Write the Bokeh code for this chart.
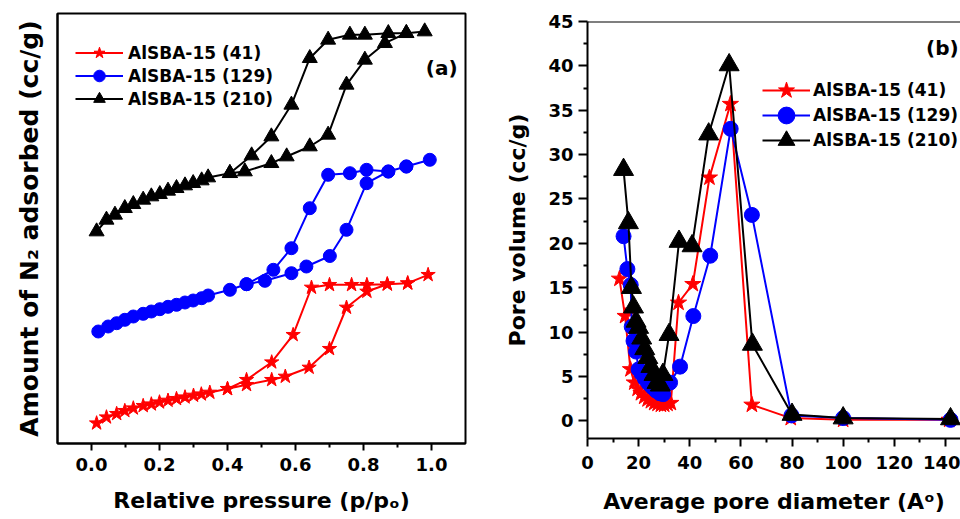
from bokeh.plotting import figure
from bokeh.layouts import row, column
from bokeh.models import Legend, LegendItem, FixedTicker, PrintfTickFormatter, Label, Span
from bokeh.embed import file_html
from bokeh.resources import INLINE

FONT = "DejaVu Sans"
RED, BLUE, BLACK = "#ff0000", "#0000ff", "#000000"
NAMES = ["AlSBA-15 (41)", "AlSBA-15 (129)", "AlSBA-15 (210)"]

# ---------------- (a) N2 adsorption-desorption isotherms ----------------
# amounts are in cc/g, curves offset vertically for clarity
p41_ads = [0.015, 0.044, 0.074, 0.098, 0.123, 0.152, 0.176, 0.200, 0.225, 0.250, 0.275, 0.300,
           0.323, 0.348, 0.400, 0.456, 0.530, 0.570, 0.640, 0.700, 0.750, 0.810, 0.870, 0.930, 0.990]
v41_ads = [20.3, 26.3, 29.7, 32.7, 35.3, 37.7, 39.3, 41.3, 43.0, 44.7, 46.3, 48.0,
           49.3, 51.0, 54.7, 58.7, 63.7, 67.0, 76.0, 94.7, 136.0, 152.0, 159.3, 160.3, 168.7]
p41_des = [0.930, 0.870, 0.810, 0.765, 0.700, 0.647, 0.593, 0.530, 0.456, 0.400]
v41_des = [160.3, 159.3, 158.7, 158.7, 158.7, 156.0, 108.7, 81.3, 63.7, 54.7]

p129_ads = [0.020, 0.049, 0.074, 0.098, 0.123, 0.152, 0.176, 0.201, 0.225, 0.250, 0.275, 0.299,
            0.324, 0.343, 0.407, 0.456, 0.510, 0.588, 0.632, 0.701, 0.750, 0.809, 0.873, 0.926, 0.995]
v129_ads = [112.0, 117.0, 120.3, 123.7, 127.0, 129.7, 132.0, 134.3, 136.7, 138.7, 141.0, 143.0,
            145.3, 148.0, 153.7, 159.3, 162.7, 170.3, 177.0, 187.5, 213.7, 260.3, 272.0, 277.0, 283.7]
p129_des = [0.926, 0.873, 0.809, 0.760, 0.696, 0.642, 0.588, 0.535, 0.456]
v129_des = [277.0, 272.0, 273.7, 270.3, 268.7, 235.3, 195.3, 173.7, 159.3]

p210_ads = [0.015, 0.044, 0.069, 0.098, 0.123, 0.152, 0.176, 0.201, 0.225, 0.250, 0.275, 0.299,
            0.324, 0.343, 0.407, 0.451, 0.529, 0.574, 0.642, 0.696, 0.750, 0.804, 0.863, 0.926, 0.980]
v210_ads = [212.0, 223.7, 228.7, 235.3, 239.3, 243.7, 247.0, 249.3, 252.7, 255.3, 258.0, 260.3,
            263.0, 266.0, 270.3, 272.0, 280.3, 287.0, 297.0, 308.7, 358.7, 383.7, 400.3, 410.3, 412.0]
p210_des = [0.926, 0.873, 0.804, 0.760, 0.696, 0.642, 0.588, 0.529, 0.471, 0.407]
v210_des = [410.3, 410.3, 408.7, 408.7, 403.7, 385.3, 338.7, 307.0, 288.0, 270.3]

p_ticks = [0.0, 0.2, 0.4, 0.6, 0.8, 1.0]
p_minor = [0.1, 0.3, 0.5, 0.7, 0.9]

# ---------------- (b) pore size distributions ----------------
d41 = [12.5, 14.7, 16.8, 18.3, 19.6, 20.9, 22.2, 23.5, 24.8, 26.1, 27.4, 28.7, 30.0, 31.3, 32.6,
       35.6, 41.2, 47.7, 55.9, 64.3, 79.5, 100.0, 141.5]
pv41 = [16.0, 11.8, 5.8, 4.3, 3.6, 3.1, 2.7, 2.4, 2.2, 2.0, 1.9, 1.8, 1.8, 1.9, 2.0,
        13.3, 15.4, 27.4, 35.7, 1.8, 0.3, 0.1, 0.1]

d129 = [14.1, 15.6, 16.9, 17.3, 18.0, 19.0, 20.0, 21.2, 22.5, 23.9, 25.3, 26.8, 28.3, 29.6,
        32.3, 36.2, 41.4, 48.0, 56.0, 64.3, 79.8, 100.0, 142.0]
pv129 = [20.8, 17.1, 15.3, 10.6, 9.0, 7.8, 5.8, 5.3, 4.7, 4.2, 3.8, 3.4, 3.1, 3.0,
         4.3, 6.1, 11.8, 18.6, 32.9, 23.2, 0.6, 0.3, 0.1]

d210 = [14.1, 16.0, 17.2, 18.0, 19.0, 20.0, 21.2, 22.4, 23.6, 24.8, 26.0, 27.2, 28.5, 29.5,
        31.9, 35.8, 40.9, 47.4, 55.4, 64.5, 80.0, 100.0, 142.0]
pv210 = [28.3, 22.3, 15.0, 12.8, 11.2, 10.5, 9.3, 8.1, 7.1, 6.1, 5.2, 4.3, 4.0, 5.2,
         9.7, 20.2, 19.7, 32.3, 40.1, 8.6, 0.7, 0.3, 0.2]

d_ticks = [0, 20, 40, 60, 80, 100, 120, 140]
d_minor = [10, 30, 50, 70, 90, 110, 130]
pv_ticks = [0, 5, 10, 15, 20, 25, 30, 35, 40, 45]
pv_minor = [2.5, 7.5, 12.5, 17.5, 22.5, 27.5, 32.5, 37.5, 42.5]


def style_axis(ax, tick_size="18px", label_size="22px"):
    ax.axis_line_width = 2
    ax.major_tick_line_width = 2
    ax.minor_tick_line_width = 2
    ax.major_tick_in = 0
    ax.minor_tick_in = 0
    ax.major_label_text_font = FONT
    ax.major_label_text_font_style = "bold"
    ax.major_label_text_font_size = tick_size
    ax.major_label_text_color = "black"
    ax.axis_label_text_font = FONT
    ax.axis_label_text_font_style = "bold"
    ax.axis_label_text_font_size = label_size
    ax.axis_label_text_color = "black"


def add_legend_rows(fig, renderer_sets, x0, y_bottoms, glyph_h, standoff):
    # one single-entry legend per row, so that rows can sit closer than the glyph box
    for name, rends, yb in zip(NAMES, renderer_sets, y_bottoms):
        leg = Legend(items=[LegendItem(label=name, renderers=rends)], location=(x0, yb),
                     glyph_width=48, glyph_height=glyph_h, label_height=20, spacing=0,
                     padding=0, margin=0, label_standoff=standoff,
                     label_text_font=FONT, label_text_font_style="bold",
                     label_text_font_size="17px", label_text_color="black",
                     background_fill_alpha=0, border_line_color=None)
        fig.add_layout(leg, "center")


# ---------- panel (a) ----------
pa = figure(width=480, height=519, x_range=(-0.1, 1.1), y_range=(0, 430), title=None,
            output_backend="svg", toolbar_location=None,
            min_border_left=57, min_border_right=15, min_border_top=13, min_border_bottom=76)
pa.grid.visible = False
pa.outline_line_color = "black"
pa.outline_line_width = 2
pa.background_fill_color = "white"
pa.border_fill_color = "white"

xa = pa.xaxis[0]
style_axis(xa)
xa.ticker = FixedTicker(ticks=p_ticks, minor_ticks=p_minor)
xa.formatter = PrintfTickFormatter(format="%.1f")
xa.major_tick_out = 7
xa.minor_tick_out = 4
xa.major_label_standoff = 7
xa.axis_label = "Relative pressure (p/p\u2092)"
xa.axis_label_standoff = 14

ya = pa.yaxis[0]
style_axis(ya, label_size="25px")
ya.ticker = FixedTicker(ticks=[], minor_ticks=[])
ya.major_tick_out = 0
ya.minor_tick_out = 0
ya.axis_label = "Amount of N\u2082 adsorbed (cc/g)"
ya.axis_label_standoff = 14

series_a = [
    (p41_ads + p41_des, v41_ads + v41_des, RED, "star", 15),
    (p129_ads + p129_des, v129_ads + v129_des, BLUE, "circle", 13),
    (p210_ads + p210_des, v210_ads + v210_des, BLACK, "triangle", 15),
]
rend_a = []
for x, y, c, m, s in series_a:
    ln = pa.line(x, y, line_color=c, line_width=2)
    sc = pa.scatter(x, y, marker=m, size=s, fill_color=c, line_color=c)
    rend_a.append([ln, sc])

add_legend_rows(pa, rend_a, 18, [376, 353, 330], 29, 5)
pa.add_layout(Label(x=1.03, y=376, text="(a)", text_align="center", text_baseline="middle",
                    text_color="black", text_font=FONT, text_font_style="bold",
                    text_font_size="20px"))

# ---------- panel (b) ----------
pb = figure(width=480, height=519, x_range=(0, 145.9), y_range=(-2, 45), title=None,
            output_backend="svg", toolbar_location=None,
            min_border_left=107, min_border_right=0, min_border_top=21, min_border_bottom=81)
pb.grid.visible = False
pb.outline_line_color = None
pb.background_fill_color = "white"
pb.border_fill_color = "white"

xb = pb.xaxis[0]
style_axis(xb)
xb.ticker = FixedTicker(ticks=d_ticks, minor_ticks=d_minor)
xb.major_tick_out = 8
xb.minor_tick_out = 4
xb.major_label_standoff = 9
xb.axis_label = "Average pore diameter (A\u1d52)"
xb.axis_label_standoff = 17

yb = pb.yaxis[0]
style_axis(yb)
yb.ticker = FixedTicker(ticks=pv_ticks, minor_ticks=pv_minor)
yb.major_tick_out = 9
yb.minor_tick_out = 4
yb.major_label_standoff = 5
yb.axis_label = "Pore volume (cc/g)"
yb.axis_label_standoff = 15

# top edge of the frame (no right edge on this panel)
pb.add_layout(Span(location=45, dimension="width", line_color="black", line_width=2))

series_b = [
    (d41, pv41, RED, "star", 17),
    (d129, pv129, BLUE, "circle", 15),
    (d210, pv210, BLACK, "triangle", 20),
]
rend_b = []
for x, y, c, m, s in series_b:
    ln = pb.line(x, y, line_color=c, line_width=2)
    sc = pb.scatter(x, y, marker=m, size=s, fill_color=c, line_color=c)
    rend_b.append([ln, sc])

add_legend_rows(pb, rend_b, 175, [327, 302, 277], 42, 3)
pb.add_layout(Label(x=138.8, y=42.0, text="(b)", text_align="center", text_baseline="middle",
                    text_color="black", text_font=FONT, text_font_style="bold",
                    text_font_size="20px"))

layout = row(column(pa), column(pb), spacing=0)
open("out.html", "w").write(file_html(layout, INLINE))
